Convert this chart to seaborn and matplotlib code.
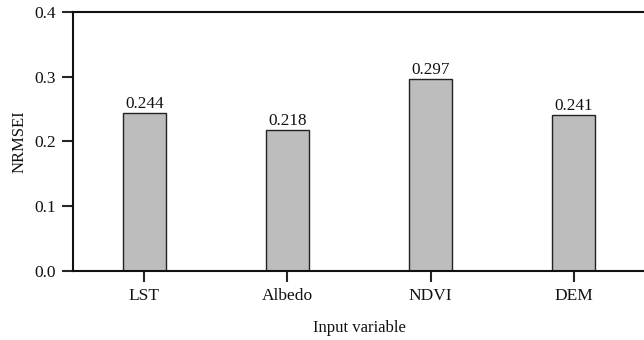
import numpy as np
import pandas as pd
import matplotlib
matplotlib.use("Agg")
import matplotlib.pyplot as plt
import seaborn as sb

variables = ["LST", "Albedo", "NDVI", "DEM"]
nrmsei = [0.244, 0.218, 0.297, 0.241]
y_ticks = [0.0, 0.1, 0.2, 0.3, 0.4]

df = pd.DataFrame({"Input variable": variables, "NRMSEI": nrmsei})

sb.set_style("ticks")
plt.rcParams["font.family"] = ["Liberation Serif", "DejaVu Serif"]
plt.rcParams["text.color"] = "#111111"

fig = plt.figure(figsize=(6.44, 3.40), dpi=100)
ax = fig.add_axes([0.113, 0.203, 0.889, 0.762])

sb.barplot(data=df, x="Input variable", y="NRMSEI", color="#bdbdbd",
           width=0.3, edgecolor="#222222", linewidth=1.0, saturation=1, ax=ax)

# value labels on top of bars
for i, v in enumerate(nrmsei):
    ax.text(i, v + 0.001, f"{v:.3f}", ha="center", va="bottom", fontsize=12.3)

ax.set_xlim(-0.5, 3.5)
ax.set_ylim(0, 0.4)
ax.set_yticks(y_ticks)
ax.set_yticklabels([f"{t:.1f}" for t in y_ticks])
ax.set_xlabel("Input variable", fontsize=12, labelpad=12, color="#111111")
ax.set_ylabel("NRMSEI", fontsize=12, labelpad=5, color="#111111")
ax.tick_params(axis="both", labelsize=12.5, length=8, width=1.5, direction="out",
               pad=4, labelcolor="#111111")
for s in ax.spines.values():
    s.set_linewidth(1.5)
    s.set_color("#111111")

fig.savefig("out.png", dpi=100)
